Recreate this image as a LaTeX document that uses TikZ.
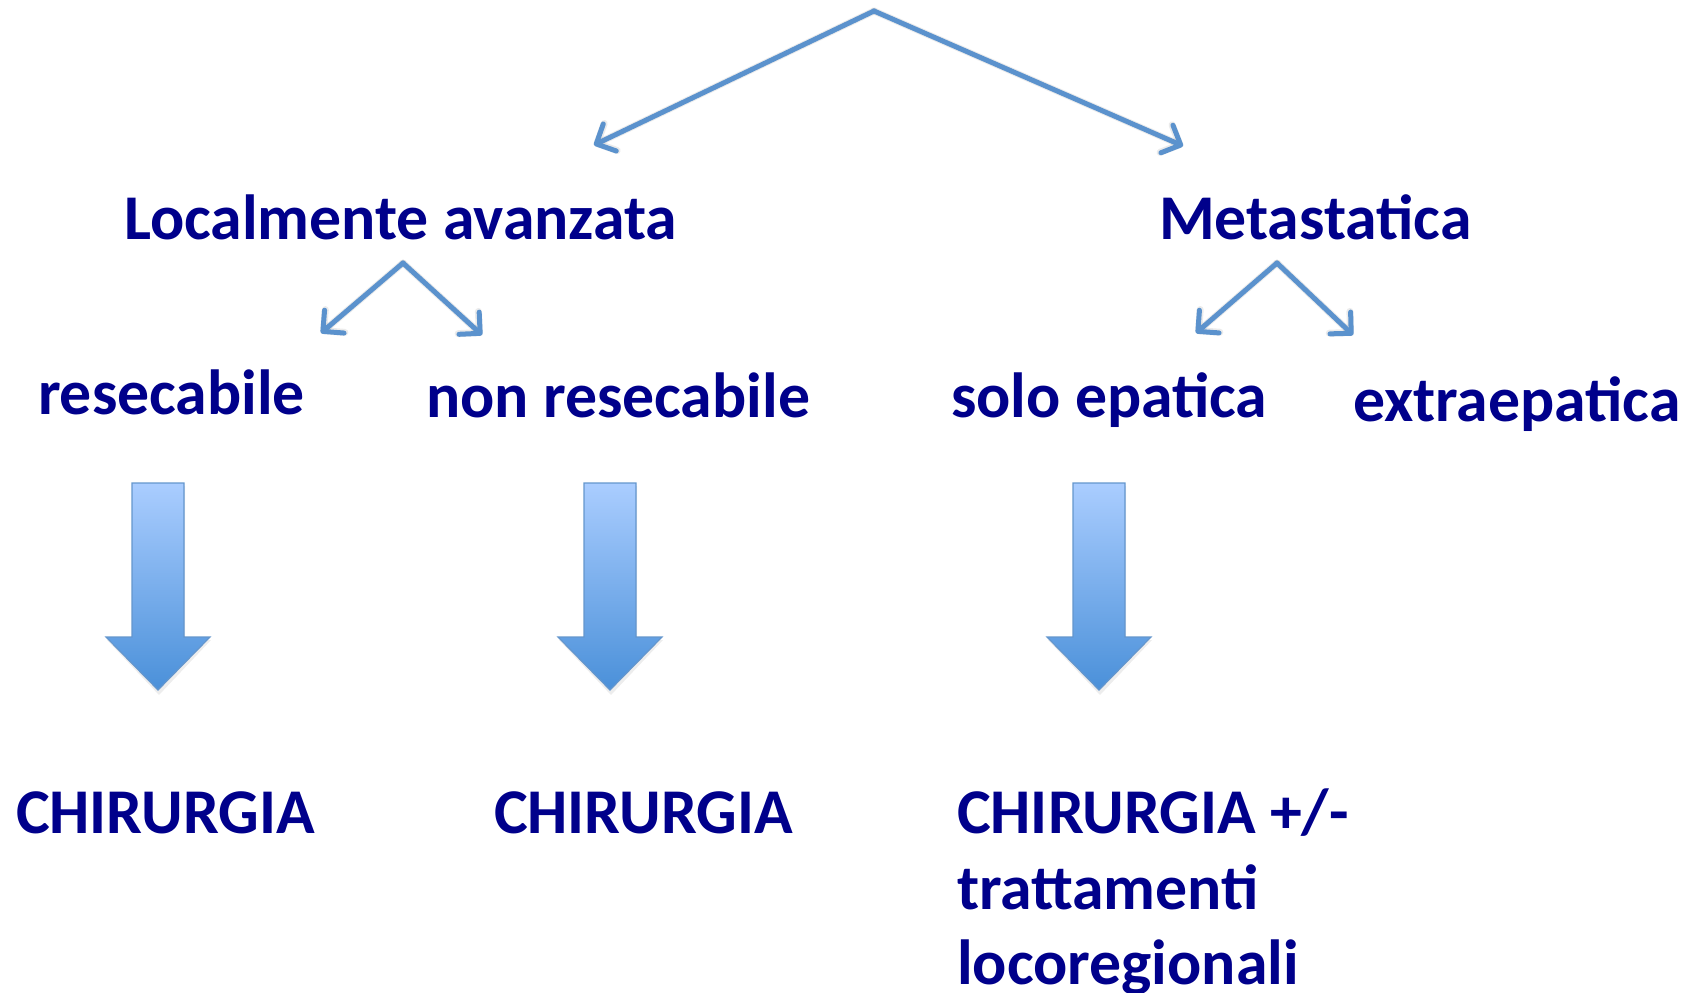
\documentclass[tikz,border=0pt]{standalone}
\usepackage{fontspec}
\setmainfont{Carlito}
\usetikzlibrary{arrows.meta}
\definecolor{navy}{RGB}{0,0,139}
\definecolor{lineblue}{RGB}{91,146,205}
\definecolor{shtop}{RGB}{170,205,255}
\definecolor{shbot}{RGB}{74,144,217}
\definecolor{shedge}{RGB}{100,150,205}
\begin{document}
\begin{tikzpicture}[x=1bp,y=-1bp,
  lbl/.style={anchor=base west, inner sep=0pt, outer sep=0pt, text=navy,
    font=\fontsize{64}{70}\selectfont\bfseries},
  conn/.style={draw=lineblue, line width=5bp, line cap=round,
    -{Straight Barb[length=15bp,width=30bp,line cap=round,line join=round]}},
  connshadow/.style={draw=black, opacity=0.08, line width=7bp, line cap=round,
    -{Straight Barb[length=15bp,width=30bp,line cap=round,line join=round]}},
  blockarrow/.style={top color=shtop, bottom color=shbot, draw=shedge, line width=1.2bp},
  blockshadow/.style={fill=black, opacity=0.07}]
\useasboundingbox (0,0) rectangle (1686,992);

% connector points
\coordinate (root) at (874,11);
\coordinate (laEnd) at (594,145);
\coordinate (meEnd) at (1183,146);
\coordinate (laTop) at (403,263);
\coordinate (resEnd) at (321,333);
\coordinate (nresEnd) at (482,335);
\coordinate (meTop) at (1277,263);
\coordinate (soloEnd) at (1196,333);
\coordinate (extraEnd) at (1353,335);

% labels
\node[lbl] (loc) at (124,239) {Localmente avanzata};
\node[lbl] (meta) at (1159,239) {Metastatica};
\node[lbl] (res) at (38,414) {resecabile};
\node[lbl] (nres) at (426,417) {non resecabile};
\node[lbl] (solo) at (951,417) {solo epatica};
\node[lbl] (extra) at (1353,421) {extraepatica};
\node[lbl] (chir1) at (16,833) {CHIRURGIA};
\node[lbl] (chir2) at (494,833) {CHIRURGIA};
\node[lbl] (chir3) at (957,833) {CHIRURGIA +/-};
\node[lbl] (tratt) at (957,909) {trattamenti};
\node[lbl] (loco) at (957,984) {locoregionali};

% shadows of connectors
\begin{scope}[shift={(2,4)}]
\draw[connshadow] (root) -- (laEnd);
\draw[connshadow] (root) -- (meEnd);
\draw[connshadow] (laTop) -- (resEnd);
\draw[connshadow] (laTop) -- (nresEnd);
\draw[connshadow] (meTop) -- (soloEnd);
\draw[connshadow] (meTop) -- (extraEnd);
\end{scope}

% connectors
\draw[conn] (root) -- (laEnd);
\draw[conn] (root) -- (meEnd);
\draw[conn] (laTop) -- (resEnd);
\draw[conn] (laTop) -- (nresEnd);
\draw[conn] (meTop) -- (soloEnd);
\draw[conn] (meTop) -- (extraEnd);

% block arrows
\foreach \cx in {158,610,1099}{
  \fill[blockshadow] (\cx-26+1,483+3) -- (\cx+26+1,483+3) -- (\cx+26+1,637+3) -- (\cx+52+1,637+3)
     -- (\cx+1,690+5) -- (\cx-52+1,637+3) -- (\cx-26+1,637+3) -- cycle;
  \path[blockarrow] (\cx-26,483) -- (\cx+26,483) -- (\cx+26,637) -- (\cx+52,637)
     -- (\cx,690) -- (\cx-52,637) -- (\cx-26,637) -- cycle;
}
\end{tikzpicture}
\end{document}
